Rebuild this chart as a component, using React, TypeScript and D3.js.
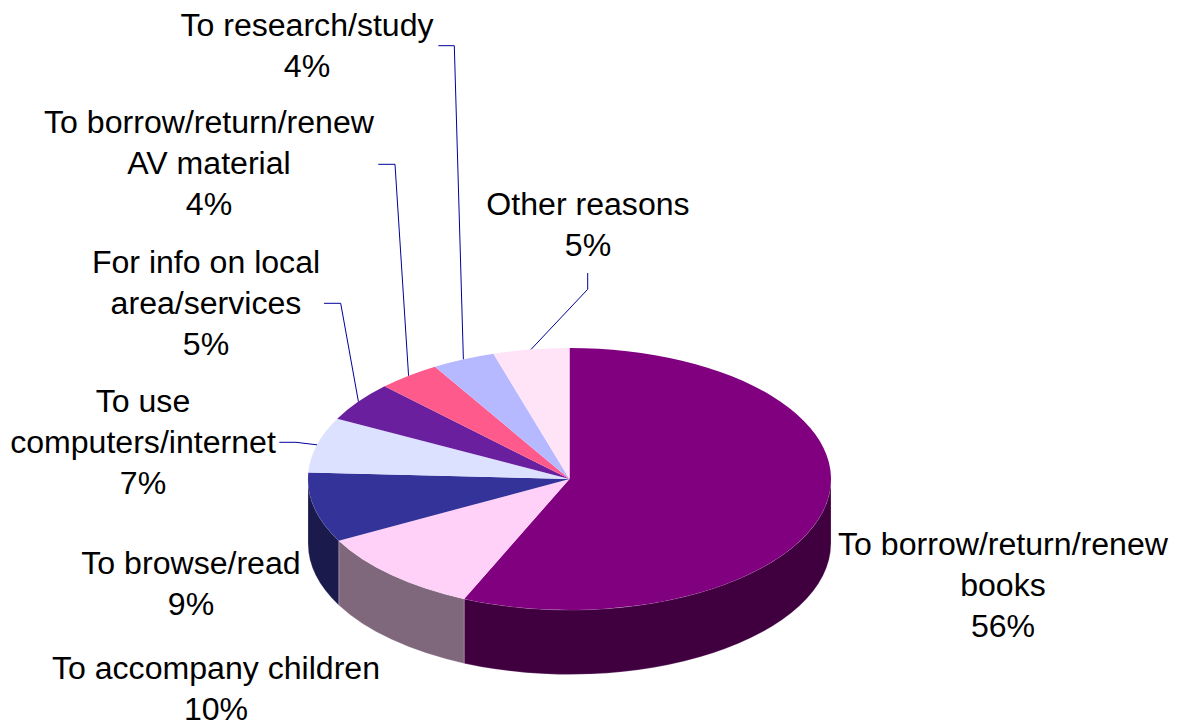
import { useEffect, useRef } from 'react';
import * as d3 from 'd3';

const categories = [
  'To borrow/return/renew books',
  'To accompany children',
  'To browse/read',
  'To use computers/internet',
  'For info on local area/services',
  'To borrow/return/renew AV material',
  'To research/study',
  'Other reasons',
];
const values = [56.6, 10.6, 8.6, 6.8, 4.9, 3.9, 3.9, 4.7];
const percentLabels = ['56%', '10%', '9%', '7%', '5%', '4%', '4%', '5%'];
const labelLines = [
  ['To borrow/return/renew', 'books'],
  ['To accompany children'],
  ['To browse/read'],
  ['To use', 'computers/internet'],
  ['For info on local', 'area/services'],
  ['To borrow/return/renew', 'AV material'],
  ['To research/study'],
  ['Other reasons'],
];
const topColors = ['#800080', '#FFD0F8', '#333399', '#DBE1FF', '#6A1F9E', '#FF5A8C', '#B6B9FF', '#FFE4F8'];
const sideColors = ['#400040', '#80687C', '#1A1A4D', '#6E7080', '#35104F', '#802D46', '#5B5C80', '#80727C'];

const cx = 569.5;
const cy = 479;
const rx = 261.5;
const ry = 131;
const depth = 64.5;
const lineHeight = 40.8;

// label centre x, first baseline y
const labelPos: [number, number][] = [
  [1003, 555],
  [216, 679],
  [191, 574],
  [143, 412],
  [206, 273],
  [209, 133],
  [307, 36],
  [588, 215],
];
// leader elbows: [start x, start y, elbow x, elbow y], null = no leader
const leaders: ([number, number, number, number] | null)[] = [
  null,
  null,
  null,
  [279.3, 442.3, 296, 442.3],
  [324, 303.3, 340.7, 303.3],
  [378.3, 164.3, 395, 164.3],
  [438.3, 45.7, 454.3, 45.7],
  [587.7, 273, 587.7, 289.3],
];

export default function App() {
  const ref = useRef<SVGSVGElement | null>(null);

  useEffect(() => {
    const svg = d3.select(ref.current);
    svg.selectAll('*').remove();

    const pie = d3.pie<number>().sort(null).value(d => d);
    const arcs = pie(values);

    const px = (a: number) => cx + rx * Math.sin(a);
    const py = (a: number) => cy - ry * Math.cos(a);

    // side wall, only the front half of the rim shows
    const sides = svg.append('g');
    arcs.forEach((d, i) => {
      const a0 = Math.max(d.startAngle, Math.PI / 2);
      const a1 = Math.min(d.endAngle, (3 * Math.PI) / 2);
      if (a1 <= a0) return;
      const path =
        `M${px(a0)},${py(a0)}` +
        `A${rx},${ry} 0 0 1 ${px(a1)},${py(a1)}` +
        `L${px(a1)},${py(a1) + depth}` +
        `A${rx},${ry} 0 0 0 ${px(a0)},${py(a0) + depth}Z`;
      sides.append('path')
        .attr('d', path)
        .attr('fill', sideColors[i])
        .attr('stroke', '#fff')
        .attr('stroke-opacity', 0.35)
        .attr('stroke-width', 0.6);
    });

    const arc = d3.arc<d3.PieArcDatum<number>>().innerRadius(0).outerRadius(rx);
    svg.append('g')
      .attr('transform', `translate(${cx},${cy}) scale(1,${ry / rx})`)
      .selectAll('path')
      .data(arcs)
      .enter()
      .append('path')
      .attr('d', d => arc(d))
      .attr('fill', (_, i) => topColors[i]);

    // leader lines end on the rim at the middle of their slice
    const line = d3.line();
    arcs.forEach((d, i) => {
      const l = leaders[i];
      if (!l) return;
      const mid = (d.startAngle + d.endAngle) / 2;
      svg.append('path')
        .attr('d', line([[l[0], l[1]], [l[2], l[3]], [px(mid), py(mid)]]))
        .attr('fill', 'none')
        .attr('stroke', '#000099')
        .attr('stroke-width', 1);
    });

    categories.forEach((name, i) => {
      const lines = [...labelLines[i], percentLabels[i]];
      const text = svg.append('text')
        .attr('data-category', name)
        .attr('text-anchor', 'middle')
        .attr('fill', '#000')
        .attr('font-size', '32.1px')
        .attr('font-family', '"Liberation Sans", Arial, sans-serif');
      lines.forEach((t, j) => {
        text.append('tspan')
          .attr('x', labelPos[i][0])
          .attr('y', labelPos[i][1] + j * lineHeight)
          .text(t);
      });
    });
  }, []);

  return (
    <svg
      ref={ref}
      width={1183}
      height={724}
      style={{ position: 'absolute', left: 0, top: 0, background: '#fff' }}
    />
  );
}
